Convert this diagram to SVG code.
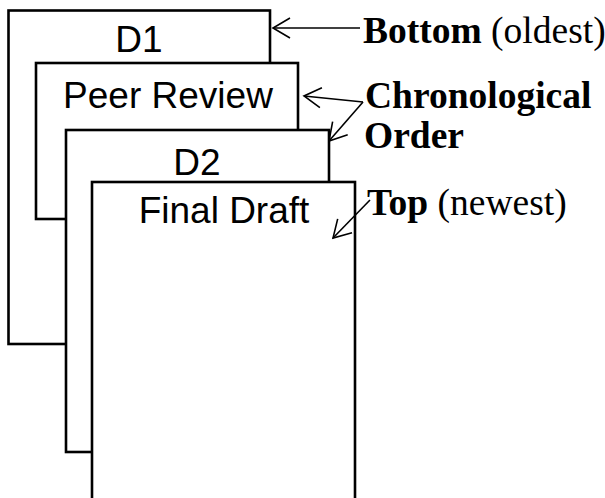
<svg xmlns="http://www.w3.org/2000/svg" width="605" height="498" viewBox="0 0 605 498">
  <style>
    .page { fill: #ffffff; stroke: #000000; stroke-width: 2.6; }
    .title { font-family: "Liberation Sans", Arial, sans-serif; font-size: 37px; fill: #000000; text-anchor: middle; }
    .note { font-family: "Liberation Serif", "Times New Roman", serif; font-size: 37.5px; fill: #000000; }
    .bold { font-weight: bold; }
    .arrow { fill: none; stroke: #000000; stroke-width: 1.6; marker-end: url(#open); }
  </style>
  <defs>
    <marker id="open" markerUnits="userSpaceOnUse" markerWidth="24" markerHeight="24" viewBox="-20 -12 24 24" refX="0" refY="0" orient="auto">
      <path d="M-17,-10 L0,0 L-17,10" fill="none" stroke="#000000" stroke-width="1.6"/>
    </marker>
  </defs>

  <!-- stacked pages, oldest at the back -->
  <g id="d1">
    <rect class="page" x="8.5" y="10.5" width="261.5" height="333.5"/>
    <text class="title" x="139" y="52">D1</text>
  </g>
  <g id="peer-review">
    <rect class="page" x="36" y="63" width="262" height="156"/>
    <text class="title" x="168" y="108">Peer Review</text>
  </g>
  <g id="d2">
    <rect class="page" x="66" y="130" width="263" height="322"/>
    <text class="title" x="197" y="175">D2</text>
  </g>
  <g id="final-draft">
    <rect class="page" x="92" y="182" width="263" height="330"/>
    <text class="title" x="224" y="223">Final Draft</text>
  </g>

  <!-- labels -->
  <g id="label-bottom">
    <text class="note" x="363" y="43"><tspan class="bold">Bottom</tspan> (oldest)</text>
  </g>
  <g id="label-order">
    <text class="note bold" x="365" y="108">Chronological</text>
    <text class="note bold" x="364" y="148">Order</text>
  </g>
  <g id="label-top">
    <text class="note" x="367" y="215"><tspan class="bold">Top</tspan> (newest)</text>
  </g>

  <!-- connectors -->
  <g id="connectors">
    <line class="arrow" x1="360" y1="28" x2="273" y2="28"/>
    <line class="arrow" x1="363" y1="102" x2="304" y2="96"/>
    <line class="arrow" x1="363" y1="102" x2="329" y2="141"/>
    <line class="arrow" x1="370" y1="200" x2="333" y2="238"/>
  </g>
</svg>
